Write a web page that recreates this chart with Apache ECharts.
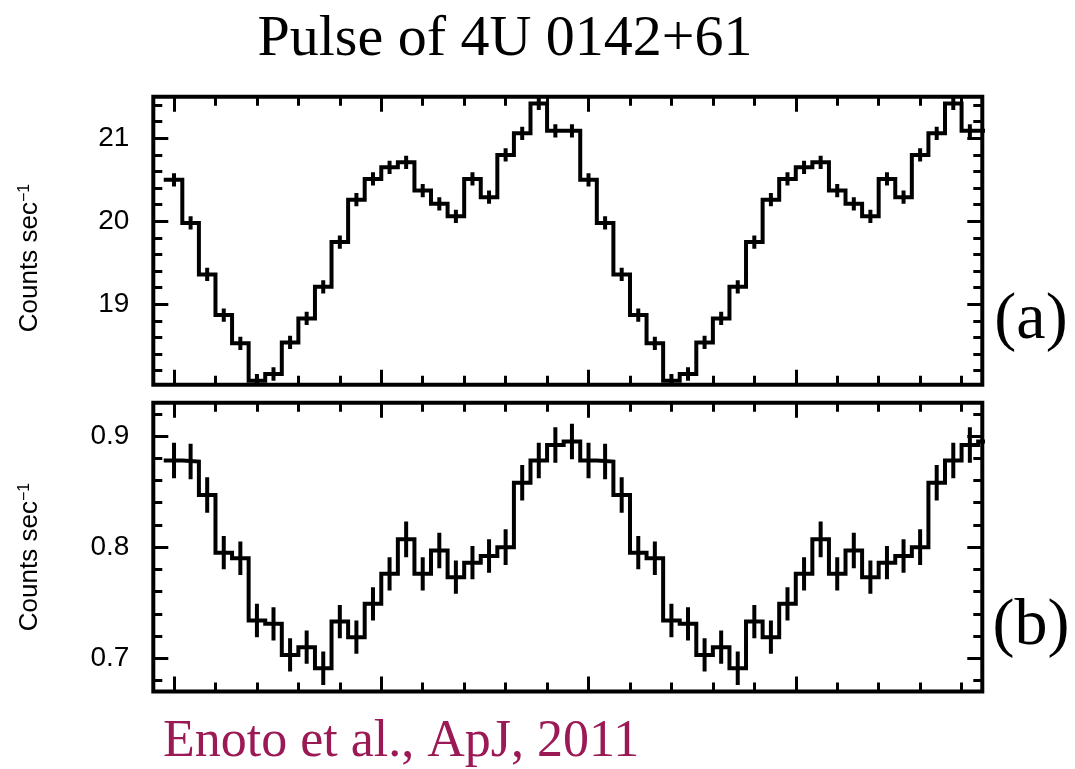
<!DOCTYPE html>
<html>
<head>
<meta charset="utf-8">
<script src="https://cdn.jsdelivr.net/npm/echarts@6/dist/echarts.min.js"></script>
<style>
  html, body { margin: 0; padding: 0; background: #ffffff; }
  #chart { width: 1075px; height: 769px; }
</style>
</head>
<body>
<div id="chart"></div>
<script>
// Pulse phase bin centres for one rotation (25 bins); the profile is plotted twice.
const phase = [0.00, 0.04, 0.08, 0.12, 0.16, 0.20, 0.24, 0.28, 0.32, 0.36,
               0.40, 0.44, 0.48, 0.52, 0.56, 0.60, 0.64, 0.68, 0.72, 0.76,
               0.80, 0.84, 0.88, 0.92, 0.96];
const cycles = [0, 1];

// Panel (a): count rate and 1-sigma error
const rateA = [20.50, 19.98, 19.36, 18.87, 18.53, 18.08, 18.16, 18.54, 18.83, 19.21,
               19.75, 20.26, 20.51, 20.65, 20.71, 20.37, 20.21, 20.06, 20.51, 20.29,
               20.80, 21.06, 21.42, 21.09, 21.09];
const errA  = [0.08, 0.08, 0.08, 0.08, 0.08, 0.08, 0.08, 0.08, 0.08, 0.08,
               0.08, 0.08, 0.08, 0.08, 0.08, 0.08, 0.08, 0.08, 0.08, 0.08,
               0.08, 0.08, 0.08, 0.08, 0.08];

// Panel (b): count rate and 1-sigma error
const rateB = [0.878, 0.877, 0.847, 0.795, 0.790, 0.734, 0.731, 0.703, 0.710, 0.691,
               0.733, 0.719, 0.749, 0.776, 0.807, 0.776, 0.797, 0.773, 0.786, 0.792,
               0.800, 0.858, 0.878, 0.892, 0.895];
const errB  = [0.016, 0.016, 0.016, 0.015, 0.015, 0.015, 0.015, 0.015, 0.015, 0.015,
               0.015, 0.015, 0.015, 0.015, 0.016, 0.015, 0.016, 0.015, 0.015, 0.015,
               0.016, 0.016, 0.016, 0.016, 0.016];

// Axis extents and tick positions
const phaseRange = [-0.05, 1.95];
const xMajorTicks = [0, 0.5, 1, 1.5];
const xMinorTicks = [0.1, 0.2, 0.3, 0.4, 0.6, 0.7, 0.8, 0.9, 1.1, 1.2, 1.3, 1.4, 1.6, 1.7, 1.8, 1.9];

const rangeA = [18.03, 21.5];
const yMajorA = [19, 20, 21];
const yMinorA = [18.2, 18.4, 18.6, 18.8, 19.2, 19.4, 19.6, 19.8, 20.2, 20.4, 20.6, 20.8, 21.2, 21.4];

const rangeB = [0.67, 0.93];
const yMajorB = [0.7, 0.8, 0.9];
const yMinorB = [0.68, 0.72, 0.74, 0.76, 0.78, 0.82, 0.84, 0.86, 0.88, 0.92];

const INK = '#000000';
const SANS = 'Liberation Sans';
const SERIF = 'Liberation Serif';
const LINE_W = 4;

const binWidth = phase[1] - phase[0];

// Step outline: one point at the left edge of each bin, plus the right edge of the last bin.
function stepData(rate) {
  const pts = [];
  cycles.forEach(c => rate.forEach((v, i) => pts.push([phase[i] + c - binWidth / 2, v])));
  const last = rate[rate.length - 1];
  pts.push([phase[phase.length - 1] + cycles[cycles.length - 1] + binWidth / 2, last]);
  return pts;
}
function errData(rate, err) {
  const pts = [];
  cycles.forEach(c => rate.forEach((v, i) => pts.push([phase[i] + c, v - err[i], v + err[i]])));
  return pts;
}

const grids = [
  { left: 153.3, top: 96.8, width: 829, height: 288 },
  { left: 153.3, top: 402.7, width: 829, height: 288.9 }
].map(g => Object.assign(g, { show: true, borderColor: INK, borderWidth: 4, backgroundColor: 'transparent', containLabel: false, outerBoundsMode: 'none' }));

const tickStyle = { color: INK, width: 3 };

function xAxes(gridIndex) {
  const base = { type: 'value', gridIndex, min: phaseRange[0], max: phaseRange[1],
                 axisLine: { show: false, onZero: false }, splitLine: { show: false }, axisLabel: { show: false } };
  const mk = (position, ticks, len) => Object.assign({}, base, { position, offset: 0,
    axisTick: { show: true, inside: true, length: len, customValues: ticks, lineStyle: tickStyle } });
  return [mk('bottom', xMajorTicks, 15), mk('bottom', xMinorTicks, 9), mk('top', xMajorTicks, 15), mk('top', xMinorTicks, 9)];
}
function yAxes(gridIndex, range, major, minor) {
  const base = { type: 'value', gridIndex, min: range[0], max: range[1],
                 axisLine: { show: false, onZero: false }, splitLine: { show: false } };
  const mk = (position, ticks, len, labels) => Object.assign({}, base, { position, offset: 0,
    axisTick: { show: true, inside: true, length: len, customValues: ticks, lineStyle: tickStyle },
    axisLabel: labels ? { show: true, customValues: ticks, margin: 24, color: INK, fontFamily: SANS, fontSize: 28 } : { show: false } });
  return [mk('left', major, 15, true), mk('left', minor, 9, false), mk('right', major, 15, false), mk('right', minor, 9, false)];
}

function stepSeries(rate, axisIdx) {
  return { type: 'line', xAxisIndex: axisIdx, yAxisIndex: axisIdx, data: stepData(rate), step: 'end',
           symbol: 'none', clip: true, silent: true, animation: false,
           lineStyle: { color: INK, width: LINE_W, join: 'miter', cap: 'square' } };
}
function errSeries(rate, err, axisIdx) {
  return { type: 'custom', xAxisIndex: axisIdx, yAxisIndex: axisIdx, data: errData(rate, err), clip: true,
           silent: true, animation: false, encode: { x: 0, y: [1, 2] },
           renderItem: (params, api) => {
             const x = api.value(0);
             const lo = api.coord([x, api.value(1)]);
             const hi = api.coord([x, api.value(2)]);
             return { type: 'line', shape: { x1: lo[0], y1: lo[1], x2: hi[0], y2: hi[1] },
                      style: { stroke: INK, lineWidth: LINE_W } };
           } };
}

function axisName(y) {
  return { type: 'text', x: 30, y, rotation: Math.PI / 2,
           style: { text: '{m|Counts sec}{s|−1}', align: 'center', verticalAlign: 'middle',
                    rich: { m: { fontFamily: SANS, fontSize: 26, fill: INK },
                            s: { fontFamily: SANS, fontSize: 16, fill: INK, verticalAlign: 'top' } } } };
}

const chart = echarts.init(document.getElementById('chart'), null, { renderer: 'canvas' });
chart.setOption({
  animation: false,
  backgroundColor: '#ffffff',
  grid: grids,
  xAxis: [...xAxes(0), ...xAxes(1)],
  yAxis: [...yAxes(0, rangeA, yMajorA, yMinorA), ...yAxes(1, rangeB, yMajorB, yMinorB)],
  series: [
    stepSeries(rateA, 0), errSeries(rateA, errA, 0),
    stepSeries(rateB, 4), errSeries(rateB, errB, 4)
  ],
  graphic: [
    { type: 'text', x: 505, y: 40, style: { text: 'Pulse of 4U 0142+61', align: 'center', verticalAlign: 'middle',
      fontFamily: SERIF, fontSize: 58, fill: INK } },
    { type: 'text', x: 1031, y: 321, style: { text: '(a)', align: 'center', verticalAlign: 'middle',
      fontFamily: SERIF, fontSize: 66, fill: INK } },
    { type: 'text', x: 1031, y: 627, style: { text: '(b)', align: 'center', verticalAlign: 'middle',
      fontFamily: SERIF, fontSize: 66, fill: INK } },
    { type: 'text', x: 163, y: 742, style: { text: 'Enoto et al., ApJ, 2011', align: 'left', verticalAlign: 'middle',
      fontFamily: SERIF, fontSize: 52, fill: '#9b1a56' } },
    axisName(258),
    axisName(557)
  ]
});
</script>
</body>
</html>
